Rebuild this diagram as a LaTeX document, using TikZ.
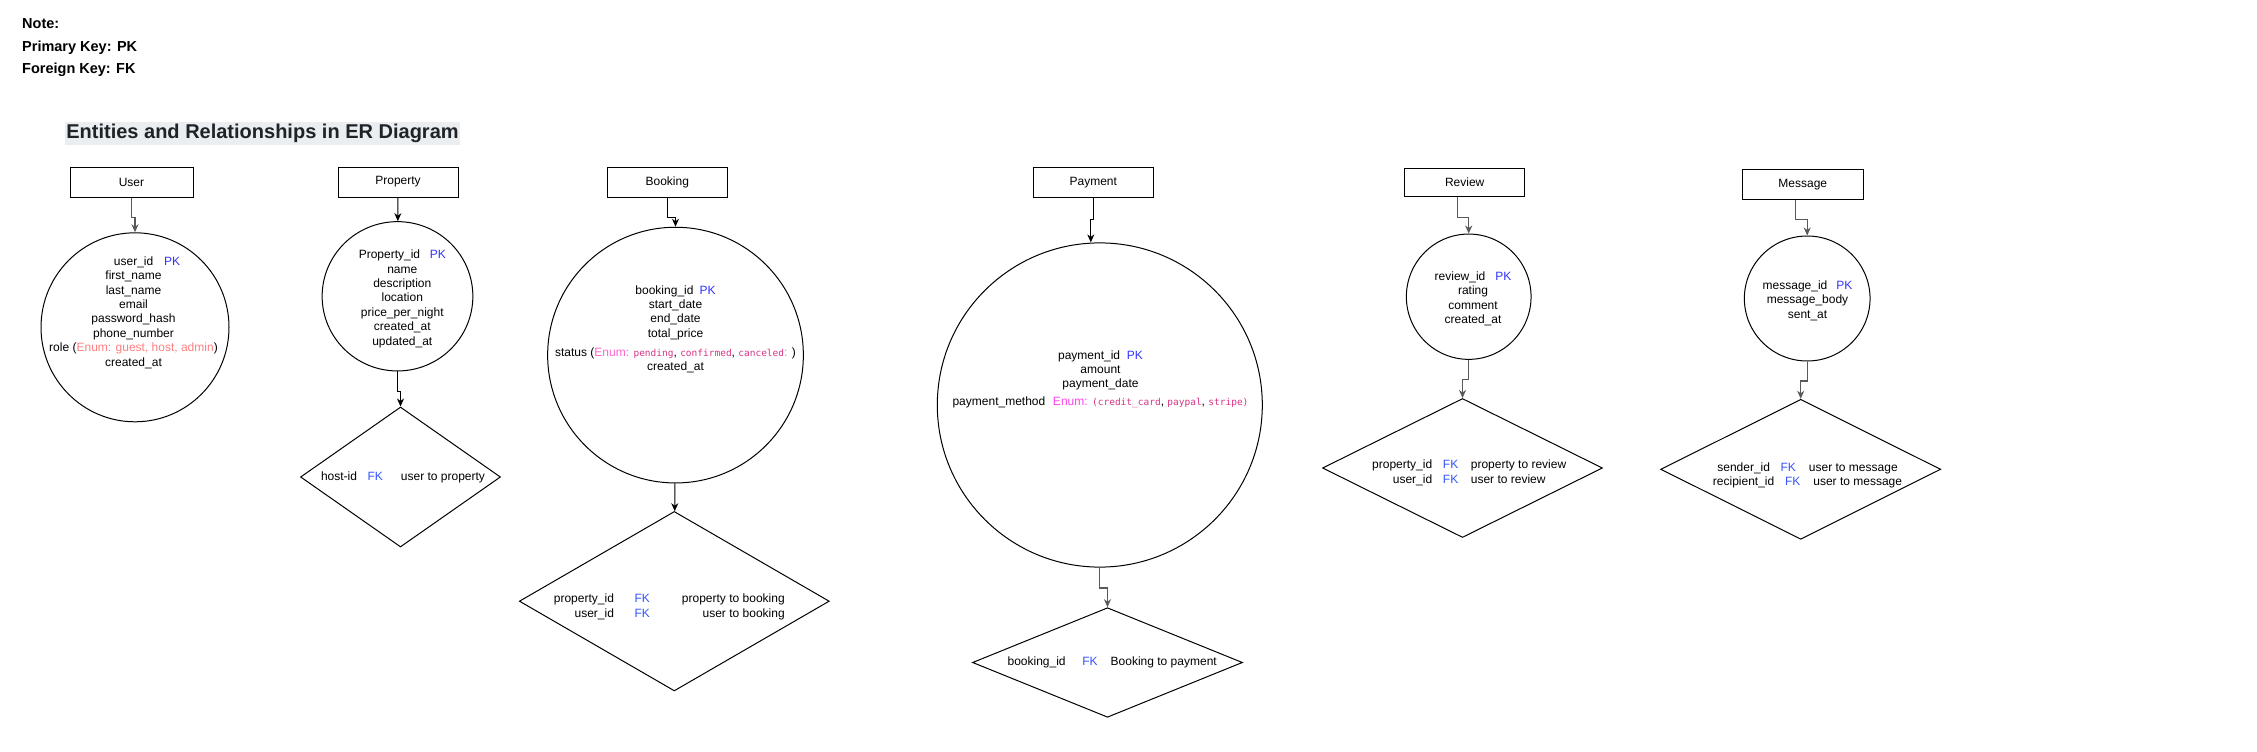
\documentclass[tikz,border=0pt]{standalone}
\usepackage{fontspec}
\setmainfont{Liberation Sans}
\setmonofont{DejaVu Sans Mono}
\usepackage{tikz}
\usetikzlibrary{arrows.meta,shapes.geometric}

\definecolor{pkblue}{HTML}{3333FF}
\definecolor{fkblue}{HTML}{3355FF}
\definecolor{enumred}{HTML}{FF8080}
\definecolor{enumpink}{HTML}{FF66CC}
\definecolor{enummag}{HTML}{FF44EE}
\definecolor{codepink}{HTML}{D63384}
\definecolor{titlebg}{HTML}{EBEEF1}
\definecolor{titlefg}{HTML}{1F2328}
\newcommand{\pk}{\textcolor{pkblue}{PK}}
\newcommand{\fk}{\textcolor{fkblue}{FK}}
\newcommand{\enumval}[1]{{\fontsize{9.5}{14.4}\selectfont\ttfamily\textcolor{codepink}{#1}}}

\begin{document}
\begin{tikzpicture}[x=1pt, y=-1pt, >={Stealth[length=8pt,width=7pt,inset=2.5pt]},
  every node/.style={font=\fontsize{12}{14.4}\selectfont},
  notetext/.style={anchor=west, inner sep=0pt, font=\fontsize{14.5}{17}\selectfont\bfseries},
  entity/.style={draw, line width=1pt, minimum width=120pt, minimum height=30pt, inner sep=0pt},
  attr/.style={draw, ellipse, line width=1pt, inner sep=0pt},
  rel/.style={draw, diamond, line width=1pt, inner sep=0pt},
  txt/.style={align=center, inner sep=0pt},
  link/.style={->, line width=1pt},
  glink/.style={->, line width=1.3pt, draw=black!65}]
\useasboundingbox (0,0) rectangle (2257,752) ;

\node (note) at (22,24) [notetext] {Note:} ;
\node (pkey) at (22,47.3) [notetext] {Primary Key: PK} ;
\node (fkey) at (22,70) [notetext] {Foreign Key: FK} ;
\node (title) at (262.5,133.7) [fill=titlebg, text=titlefg, font=\fontsize{20}{24}\selectfont\bfseries, inner xsep=1pt, inner ysep=0pt, minimum height=23pt] {Entities and Relationships in ER Diagram} ;

\node (user) at (131.5,182) [entity, minimum width=123pt] {User} ;
\node (property) at (398,182) [entity] {Property} ;
\node (booking) at (667.3,182) [entity] {Booking} ;
\node (payment) at (1093.3,182.3) [entity] {Payment} ;
\node (review) at (1464.7,182.5) [entity, minimum height=28.5pt] {Review} ;
\node (message) at (1802.8,184.3) [entity, minimum width=121pt] {Message} ;

\node (userattr) at (135,327.3) [attr, minimum width=188pt, minimum height=189pt] {} ;
\node (propattr) at (397.5,296.3) [attr, minimum width=150.7pt, minimum height=149.3pt] {} ;
\node (bookattr) at (675.5,355.1) [attr, minimum width=255.7pt, minimum height=255.7pt] {} ;
\node (payattr) at (1099.8,405) [attr, minimum width=325pt, minimum height=324.2pt] {} ;
\node (reviewattr) at (1468.7,296.7) [attr, minimum width=124.7pt, minimum height=125.3pt] {} ;
\node (msgattr) at (1807.2,298.5) [attr, minimum width=125.7pt, minimum height=125pt] {} ;

\node (usertxt) at (133.5,312.5) [txt] {\hspace*{27pt}user\_id\hspace{10.7pt}\pk\\ first\_name\\ last\_name\\ email\\ password\_hash\\ phone\_number\\ role (\textcolor{enumred}{Enum: guest, host, admin})\\ created\_at} ;
\node (proptxt) at (402.3,298.7) [txt] {Property\_id\hspace{9.7pt}\pk\\ name\\ description\\ location\\ price\_per\_night\\ created\_at\\ updated\_at} ;
\node (booktxt) at (675.5,329.3) [txt] {booking\_id\hspace{6pt}\pk\\ start\_date\\ end\_date\\ total\_price\\[4.6pt] status (\textcolor{enumpink}{Enum:} \enumval{pending}, \enumval{confirmed}, \enumval{canceled}\textcolor{enumpink}{:} )\\ created\_at} ;
\node (paytxt) at (1100.5,379.2) [txt] {payment\_id\hspace{6.7pt}\pk\\ amount\\ payment\_date\\[3.4pt] payment\_method\hspace{7.7pt}\textcolor{enummag}{Enum:} \enumval{(credit\_card}, \enumval{paypal}, \enumval{stripe)}} ;
\node (reviewtxt) at (1473,298.7) [txt] {review\_id\hspace{10pt}\pk\\ rating\\ comment\\ created\_at} ;
\node (msgtxt) at (1807.5,300.5) [txt] {message\_id\hspace{9pt}\pk\\ message\_body\\ sent\_at} ;

\node (propdia) at (400.5,477) [rel, minimum width=200pt, minimum height=140pt] {} ;
\node (bookdia) at (674.3,601.2) [rel, minimum width=310pt, minimum height=179.5pt] {} ;
\node (paydia) at (1107.5,662.5) [rel, minimum width=270pt, minimum height=109.6pt] {} ;
\node (reviewdia) at (1462.5,468) [rel, minimum width=280pt, minimum height=139pt] {} ;
\node (msgdia) at (1800.7,469.3) [rel, minimum width=280pt, minimum height=140pt] {} ;

\node (propfk) at (403,477.7) [txt] {host-id\hspace{10.6pt}\fk\hspace{18pt}user to property} ;
\node (bookfk) at (669.3,607.5) [inner sep=0pt] {\begin{tabular}{@{}r@{\hspace{20.7pt}}l@{\hspace{32pt}}r@{}} property\_id & \fk & property to booking\\[0.6pt] user\_id & \fk & user to booking \end{tabular}} ;
\node (payfk) at (1112.2,662.7) [txt] {booking\_id\hspace{16.7pt}\fk\hspace{13pt}Booking to payment} ;
\node (reviewfk) at (1469.2,473.3) [inner sep=0pt] {\begin{tabular}{@{}r@{\hspace{10.7pt}}l@{\hspace{12.6pt}}l@{}} property\_id & \fk & property to review\\ user\_id & \fk & user to review \end{tabular}} ;
\node (msgfk) at (1807.5,475.2) [txt] {sender\_id\hspace{10.6pt}\fk\hspace{13pt}user to message\\ recipient\_id\hspace{10.7pt}\fk\hspace{13pt}user to message} ;

\draw[glink] (user.south) -- ++(0,20) -| (userattr.north) ;
\draw[link] (property) -- (propattr) ;
\draw[link] (propattr.south) -- ++(0,19.7) -| (propdia.north) ;
\draw[link] (booking.south) -- ++(0,19.6) -| (bookattr.north) ;
\draw[link] (bookattr) -- (bookdia) ;
\draw[link] (payment.south) -- ++(0,22) -| ([xshift=-9pt]payattr.north) ;
\draw[glink] (payattr.south) -- ++(0,20.3) -| (paydia.north) ;
\draw[glink] ([xshift=-7.4pt]review.south) -- ++(0,20) -| (reviewattr.north) ;
\draw[glink] (reviewattr.south) -- ++(0,19.7) -| (reviewdia.north) ;
\draw[glink] ([xshift=-7pt]message.south) -- ++(0,20) -| (msgattr.north) ;
\draw[glink] (msgattr.south) -- ++(0,19.4) -| (msgdia.north) ;
\end{tikzpicture}
\end{document}
